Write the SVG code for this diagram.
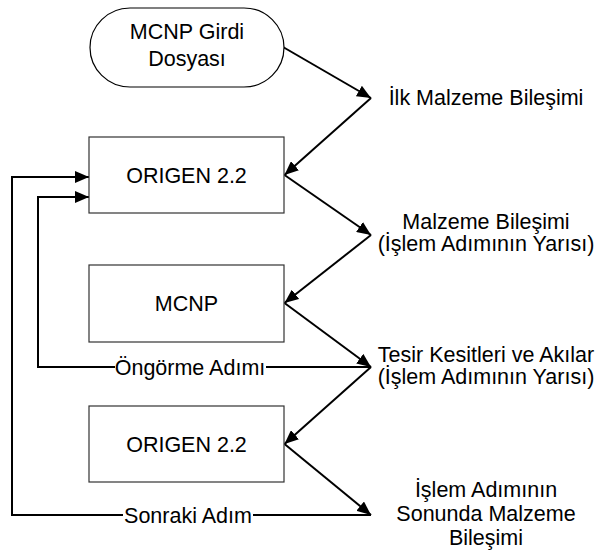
<svg xmlns="http://www.w3.org/2000/svg" width="600" height="554" viewBox="0 0 600 554">
<style>
text{font-family:"Liberation Sans",Arial,sans-serif;font-size:21.5px;fill:#000;text-anchor:middle}
.box{fill:#fff;stroke:#333;stroke-width:1.2}
.term{fill:#fff;stroke:#000;stroke-width:1.2}
.c{fill:none;stroke:#000;stroke-width:2;marker-end:url(#ah)}
</style>
<defs>
<marker id="ah" markerUnits="userSpaceOnUse" markerWidth="14" markerHeight="12" viewBox="0 0 14 12" refX="14" refY="6" orient="auto">
<path d="M0,0 L14,6 L0,12 Z" fill="#000"/>
</marker>
</defs>
<rect width="600" height="554" fill="#fff"/>
<g id="connectors">
<path class="c" d="M283,47 L371,98"/>
<path class="c" d="M371,98 L284.5,175"/>
<path class="c" d="M284.5,175 L371,235"/>
<path class="c" d="M371,235 L284.5,303"/>
<path class="c" d="M284.5,303 L371,367"/>
<path class="c" d="M371,367 L284.5,444"/>
<path class="c" d="M284.5,444 L371,515"/>
<path class="c" d="M371,367 H266 M115,367 H38 V197 H89"/>
<path class="c" d="M371,515 H253 M123,515 H12 V177 H89"/>
<text x="190" y="375">Öngörme Adımı</text>
<text x="188" y="523">Sonraki Adım</text>
</g>
<g id="input">
<rect class="term" x="90" y="8" width="194" height="79" rx="40" ry="39.5"/>
<text x="187" y="39">MCNP Girdi</text>
<text x="187" y="66">Dosyası</text>
</g>
<g id="origen1">
<rect class="box" x="89" y="137" width="195" height="76"/>
<text x="186.5" y="182.5">ORIGEN 2.2</text>
</g>
<g id="mcnp">
<rect class="box" x="89" y="265" width="195" height="77"/>
<text x="186.5" y="310.5">MCNP</text>
</g>
<g id="origen2">
<rect class="box" x="89" y="406" width="195" height="76"/>
<text x="186.5" y="451.5">ORIGEN 2.2</text>
</g>
<g id="label1">
<text x="486" y="104.5">İlk Malzeme Bileşimi</text>
</g>
<g id="label2">
<text x="486" y="229">Malzeme Bileşimi</text>
<text x="486" y="251">(İşlem Adımının Yarısı)</text>
</g>
<g id="label3">
<text x="486" y="362">Tesir Kesitleri ve Akılar</text>
<text x="486" y="384">(İşlem Adımının Yarısı)</text>
</g>
<g id="label4">
<text x="486" y="497">İşlem Adımının</text>
<text x="486" y="521">Sonunda Malzeme</text>
<text x="486" y="545">Bileşimi</text>
</g>
</svg>
